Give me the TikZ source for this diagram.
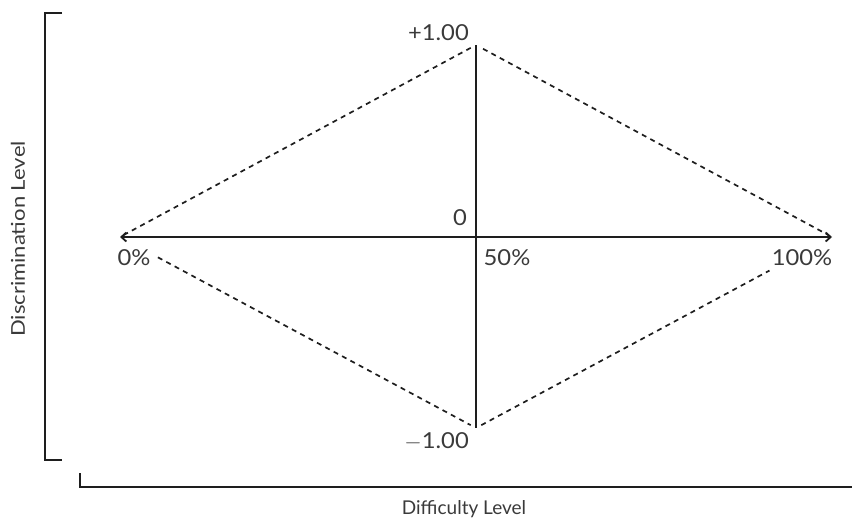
\documentclass[tikz,border=0pt]{standalone}
\usepackage{fontspec}
\setmainfont{Lato}
\usetikzlibrary{arrows.meta}
\definecolor{tinta}{HTML}{1E1E1E}
\definecolor{texto}{HTML}{3A3A3A}

\begin{document}
\begin{tikzpicture}[x=1pt, y=-1pt, font=\fontsize{19}{21}\selectfont,
      eje/.style={draw=tinta, line width=1.8pt},
      diag/.style={draw=tinta, line width=1.7pt, dash pattern=on 5pt off 4.5pt},
      lbl/.style={text=texto, inner sep=0pt},
      num/.style={lbl, font=\fontsize{22}{24}\selectfont, xscale=1.08}]
    \useasboundingbox (0,0) rectangle (852,525);
    % puntos del rombo
    \coordinate (izq) at (120,237);
    \coordinate (der) at (832,237);
    \coordinate (arr) at (476,45);
    \coordinate (aba) at (476,428);
    % ejes
    \draw[eje, {Straight Barb[length=5pt,width=9pt]}-{Straight Barb[length=5pt,width=9pt]}] (izq) -- (der);
    \draw[eje] (arr) -- (aba);
    \draw[diag, shorten <=4pt, shorten >=6pt] (izq) -- (arr);
    \draw[diag, shorten <=8pt, shorten >=4pt] (arr) -- (der);
    \draw[diag, shorten <=43pt, shorten >=6pt] (izq) -- (aba);
    \draw[diag, shorten <=6pt, shorten >=71pt] (aba) -- (der);
    % corchetes
    \draw[eje] (62,13) -- (45,13) -- (45,460) -- (62,460);
    \draw[eje] (80,473) -- (80,487) -- (852,487);
    % etiquetas
    \node[num, anchor=east] (mas) at (469,33) {+1.00};
    \node[num] (cero) at (460,218) {0};
    \node[num] (mitad) at (507,258) {50\%};
    \node[num] (nada) at (134,258) {0\%};
    \node[num] (todo) at (802,258) {100\%};
    \node[num, anchor=east] (menos) at (469,441) {$-$1.00};
    \node[lbl] (dif) at (464,509) {Difficulty Level};
    \node[lbl, rotate=90, xscale=1.16] (disc) at (18,239) {Discrimination Level};
\end{tikzpicture}
\end{document}
